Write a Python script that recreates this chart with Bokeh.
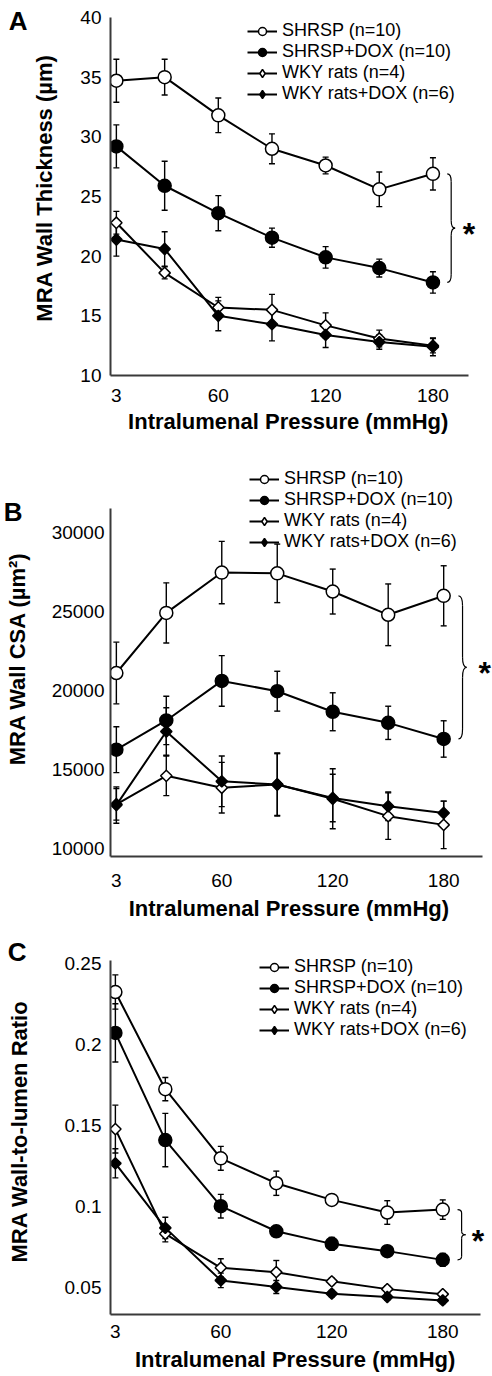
import numpy as np
from bokeh.plotting import figure
from bokeh.layouts import column
from bokeh.models import Legend, LegendItem, FixedTicker, Range1d, LinearAxis, Label
from bokeh.embed import file_html
from bokeh.resources import INLINE

# ---------------- data ----------------
pressure = [3, 30, 60, 90, 120, 150, 180]
x_ticks = [3, 60, 120, 180]
x_tick_labels = ["3", "60", "120", "180"]
series_names = ["SHRSP (n=10)", "SHRSP+DOX (n=10)", "WKY rats (n=4)", "WKY rats+DOX (n=6)"]
x_title = "Intralumenal Pressure (mmHg)"

# Panel A: wall thickness (um)
a_shrsp = [34.7, 35.0, 31.8, 29.0, 27.6, 25.6, 26.9]
a_shrsp_err = [1.8, 1.5, 1.45, 1.25, 0.7, 1.45, 1.35]
a_shrsp_dox = [29.2, 25.9, 23.6, 21.55, 19.9, 19.0, 17.8]
a_shrsp_dox_err = [1.8, 2.05, 1.47, 0.8, 0.9, 0.75, 0.9]
a_wky = [22.8, 18.6, 15.7, 15.5, 14.2, 13.1, 12.5]
a_wky_err = [0.95, 0.5, 0.85, 1.3, 1.05, 0.7, 0.6]
a_wky_dox = [21.4, 20.6, 15.0, 14.3, 13.4, 12.8, 12.4]
a_wky_dox_err = [1.4, 1.45, 1.25, 1.4, 1.05, 0.6, 0.75]
a_y_ticks = [10, 15, 20, 25, 30, 35, 40]
a_y_labels = ["10", "15", "20", "25", "30", "35", "40"]
a_y_title = "MRA Wall Thickness (\u00b5m)"

# Panel B: wall CSA (um^2)
b_shrsp = [21100, 24900, 27450, 27400, 26250, 24780, 25980]
b_shrsp_err = [1950, 1900, 1970, 1850, 1420, 1950, 1900]
b_shrsp_dox = [16250, 18100, 20600, 19950, 18650, 17950, 16930]
b_shrsp_dox_err = [1450, 1530, 1600, 1260, 1200, 1050, 1150]
b_wky = [12800, 14600, 13850, 14050, 13150, 12050, 11500]
b_wky_err = [1000, 1250, 1600, 2000, 1900, 1470, 1500]
b_wky_dox = [12750, 17400, 14250, 14050, 13200, 12680, 12250]
b_wky_dox_err = [1150, 1500, 1600, 1950, 1500, 900, 750]
b_y_ticks = [10000, 15000, 20000, 25000, 30000]
b_y_labels = ["10000", "15000", "20000", "25000", "30000"]
b_y_title = "MRA Wall CSA (\u00b5m\u00b2)"

# Panel C: wall-to-lumen ratio
c_shrsp = [0.2325, 0.1724, 0.1296, 0.1142, 0.1039, 0.0961, 0.0979]
c_shrsp_err = [0.0106, 0.0072, 0.0074, 0.0075, 0.003, 0.0073, 0.006]
c_shrsp_dox = [0.2072, 0.1409, 0.1000, 0.0845, 0.0767, 0.0722, 0.0668]
c_shrsp_dox_err = [0.018, 0.0165, 0.0073, 0.003, 0.004, 0.002, 0.004]
c_wky = [0.1477, 0.0829, 0.0619, 0.0592, 0.0535, 0.0487, 0.0456]
c_wky_err = [0.0148, 0.005, 0.0056, 0.0072, 0.002, 0.002, 0.0015]
c_wky_dox = [0.1265, 0.0866, 0.0541, 0.0500, 0.0459, 0.0438, 0.0417]
c_wky_dox_err = [0.009, 0.0066, 0.0045, 0.004, 0.002, 0.002, 0.002]
c_y_ticks = [0.05, 0.1, 0.15, 0.2, 0.25]
c_y_labels = ["0.05", "0.1", "0.15", "0.2", "0.25"]
c_y_title = "MRA Wall-to-lumen Ratio"

FONT = "Liberation Sans"
AXIS_COLOR = "#3a3a3a"
FIG_W = 492

# marker styles: (marker, fill, size, angle, legend marker)
styles = [
    ("circle", "white", 13, 0.0, "circle"),
    ("circle", "black", 13, 0.0, "circle"),
    ("square", "white", 8, np.pi / 4, "diamond"),
    ("square", "black", 8, np.pi / 4, "diamond"),
]


def bare_axis(ax, size, standoff, ticks, labels):
    ax.ticker = FixedTicker(ticks=ticks)
    ax.major_label_overrides = {t: s for t, s in zip(ticks, labels)}
    ax.axis_line_color = None
    ax.major_tick_out = 0
    ax.major_tick_in = 0
    ax.minor_tick_out = 0
    ax.minor_tick_in = 0
    ax.major_label_standoff = standoff
    ax.major_label_text_font = FONT
    ax.major_label_text_font_style = "bold"
    ax.major_label_text_font_size = size
    ax.major_label_text_color = "black"


def make_panel(letter, means, errs, y_ticks, y_labels, y_title, x_range, x_bounds,
               y_lohi, height, borders, axis_top_off, xstand, ystand, legend_loc,
               letter_page_y, letter_standoff, star_dx, xtitle_x):
    bt, bb, bl, br = borders
    frame_h = height - bt - bb
    y_lo, y_hi = y_lohi
    upp = (y_hi - y_lo) / (frame_h - axis_top_off)      # data units per pixel
    y_end = y_hi + axis_top_off * upp
    p = figure(width=FIG_W, height=height, output_backend="svg", toolbar_location=None,
               x_range=Range1d(*x_range), y_range=Range1d(y_lo, y_end),
               min_border_top=bt, min_border_bottom=bb, min_border_left=bl,
               min_border_right=br)
    p.extra_y_ranges = {"swatch": Range1d(1e12, 1e12 + 1)}   # keeps legend swatches off-frame
    p.outline_line_color = None
    p.grid.visible = False
    p.background_fill_color = "white"

    for ax in (p.xaxis[0], p.yaxis[0]):
        ax.axis_line_width = 2
        ax.axis_line_color = AXIS_COLOR
        ax.major_tick_out = 0
        ax.major_tick_in = 0
        ax.minor_tick_out = 0
        ax.minor_tick_in = 0
        ax.major_label_text_font = FONT
        ax.major_label_text_font_size = "19px"
        ax.major_label_text_color = "black"
        ax.axis_label_text_font = FONT
        ax.axis_label_text_font_size = "22px"
        ax.axis_label_text_font_style = "bold"
        ax.axis_label_text_color = "black"
    xa, ya = p.xaxis[0], p.yaxis[0]
    xa.ticker = FixedTicker(ticks=x_ticks)
    xa.major_label_overrides = {t: s for t, s in zip(x_ticks, x_tick_labels)}
    ya.ticker = FixedTicker(ticks=y_ticks)
    ya.major_label_overrides = {t: s for t, s in zip(y_ticks, y_labels)}
    ya.bounds = (y_lo, y_hi)
    xa.bounds = x_bounds
    ya.axis_label = y_title
    xa.major_label_standoff = xstand[0]
    ya.major_label_standoff = ystand[0]
    ya.axis_label_standoff = ystand[1]

    # x-axis title: a second bottom axis whose single label is centred under the plot
    xt_ax = LinearAxis()
    bare_axis(xt_ax, "22px", xstand[1], [xtitle_x], [x_title])
    p.add_layout(xt_ax, "below")

    x = np.array(pressure, dtype=float)
    # error bars
    for m, e in zip(means, errs):
        m = np.array(m, dtype=float)
        e = np.array(e, dtype=float)
        p.segment(x0=x, y0=m - e, x1=x, y1=m + e, line_color="black", line_width=1.4)
        p.scatter(x=np.concatenate([x, x]), y=np.concatenate([m - e, m + e]),
                  marker="dash", size=6, line_color="black", line_width=1.4)
    items = []
    for (mk, fill, size, ang, lmk), m, name in zip(styles, means, series_names):
        lr = p.line(x=x, y=m, line_color="black", line_width=2)
        p.scatter(x=x, y=m, marker=mk, size=size, angle=ang, fill_color=fill,
                  line_color="black", line_width=1.5)
        # legend swatch: same data, upright marker, mapped onto an off-frame range
        lsr = p.scatter(x=x, y=m, marker=lmk, fill_color=fill, line_color="black",
                        line_width=1.5, y_range_name="swatch")
        items.append((lr, lsr, name))

    # brace linking the last points of the two SHRSP groups
    y_top = means[0][-1]
    y_bot = means[1][-1]
    y_mid = (y_top + y_bot) / 2
    r = (y_top - y_bot) * 0.07
    bx0 = pressure[-1] + 8
    bxm = bx0 + 2.2
    bx1 = bx0 + 4.4
    p.quadratic(x0=[bx0, bxm, bx1, bxm], y0=[y_top, y_mid + r, y_mid, y_bot + r],
                x1=[bxm, bx1, bxm, bx0], y1=[y_top - r, y_mid, y_mid - r, y_bot],
                cx=[bxm, bxm, bxm, bxm], cy=[y_top, y_mid, y_mid, y_bot],
                line_color="black", line_width=1.2)
    p.segment(x0=[bxm, bxm], y0=[y_top - r, y_mid - r], x1=[bxm, bxm], y1=[y_mid + r, y_bot + r],
              line_color="black", line_width=1.2)
    # significance star
    p.add_layout(Label(x=pressure[-1] + star_dx, y=y_mid - 6 * upp, text="*",
                       text_font=FONT, text_font_style="bold", text_font_size="32px",
                       text_color="black", text_align="center", text_baseline="middle"))

    legend = Legend(items=[LegendItem(label=n, renderers=[lr, lsr]) for lr, lsr, n in items],
                    location=legend_loc, border_line_alpha=0, background_fill_alpha=0,
                    padding=0, margin=0, spacing=0, glyph_width=30, glyph_height=20,
                    label_height=20, label_standoff=5, label_text_font=FONT,
                    label_text_font_size="18px", label_text_color="black")
    p.add_layout(legend)

    # panel letter: an outer left axis with a single labelled tick
    y_letter = y_end - letter_page_y * upp
    let_ax = LinearAxis(bounds=(y_letter - upp, y_letter + upp))
    bare_axis(let_ax, "26px", letter_standoff, [y_letter], [letter])
    p.add_layout(let_ax, "left")
    return p


# letter_page_y: letter centre measured from the frame top (px)
pA = make_panel("A", [a_shrsp, a_shrsp_dox, a_wky, a_wky_dox],
                [a_shrsp_err, a_shrsp_dox_err, a_wky_err, a_wky_dox_err],
                a_y_ticks, a_y_labels, a_y_title, (-0.28, 213.3), (-0.28, 199.7),
                (10, 40), 448, (0, 73, 101, 0), 17, (13, 4), (9, 20), (137, 271),
                10, 2, 20.2, 99.1)
pB = make_panel("B", [b_shrsp, b_shrsp_dox, b_wky, b_wky_dox],
                [b_shrsp_err, b_shrsp_dox_err, b_wky_err, b_wky_dox_err],
                b_y_ticks, b_y_labels, b_y_title, (-0.17, 206.4), (-0.17, 201.1),
                (9500, 31500), 476, (12, 68, 101, 0), 48, (17, 6), (6, 19), (139, 304),
                51, -21, 22.2, 96.3)
pC = make_panel("C", [c_shrsp, c_shrsp_dox, c_wky, c_wky_dox],
                [c_shrsp_err, c_shrsp_dox_err, c_wky_err, c_wky_dox_err],
                c_y_ticks, c_y_labels, c_y_title, (0.36, 206.9), (0.36, 200.6),
                (0.033, 0.252), 452, (24, 62, 101, 0), 12, (10, 6), (9, 30), (149, 274),
                3, -23, 19.0, 100.2)

layout = column(pA, pB, pC, spacing=0)
open("out.html", "w").write(file_html(layout, INLINE))
